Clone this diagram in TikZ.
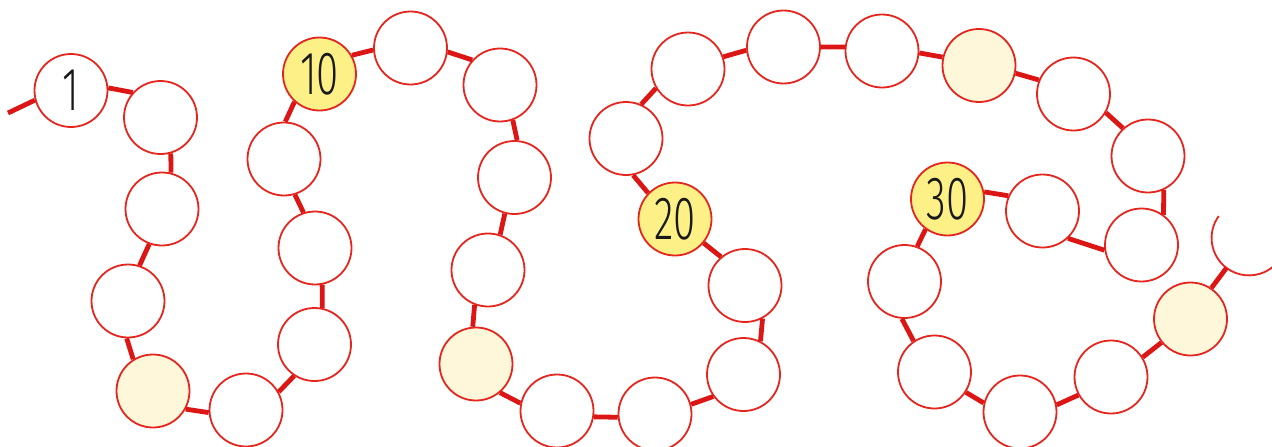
\documentclass[tikz,border=0pt]{standalone}
\usepackage{fontspec}
\newfontfamily\beadfont{Fira Sans Light}
\definecolor{beadred}{RGB}{228,38,30}
\definecolor{linkred}{RGB}{220,22,20}
\definecolor{tenyellow}{RGB}{253,240,135}
\definecolor{paleyellow}{RGB}{255,247,218}
\definecolor{numgray}{RGB}{25,25,25}
\newcommand\beadnum[1]{\scalebox{0.66}[1]{#1}}
\tikzset{
  bead/.style={circle, draw=beadred, line width=1.8pt, fill=white, minimum size=73pt, inner sep=0pt,
    font=\beadfont\fontsize{61}{61}\selectfont, text=numgray},
  tenbead/.style={bead, fill=tenyellow},
  fivebead/.style={bead, fill=paleyellow},
  link/.style={draw=linkred, line width=4.8pt, line cap=butt}
}
\begin{document}
\begin{tikzpicture}[x=1pt,y=-1pt]
\useasboundingbox (0,0) rectangle (1272,447);
\node[bead] (c1) at (71,90.5) {\beadnum{1}};
\node[bead] (c2) at (160.5,117.5) {};
\node[bead] (c3) at (162,209) {};
\node[bead] (c4) at (128,301) {};
\node[fivebead] (c5) at (153,391) {};
\node[bead] (c6) at (246,410) {};
\node[bead] (c7) at (314.5,344.5) {};
\node[bead] (c8) at (315,248) {};
\node[bead] (c9) at (284,159) {};
\node[tenbead] (c10) at (319.5,74) {\beadnum{10}};
\node[bead] (c11) at (410.5,48) {};
\node[bead] (c12) at (500,85) {};
\node[bead] (c13) at (514.5,177.5) {};
\node[bead] (c14) at (488,270) {};
\node[fivebead] (c15) at (476,364) {};
\node[bead] (c16) at (557,411) {};
\node[bead] (c17) at (655,414) {};
\node[bead] (c18) at (743.5,374.5) {};
\node[bead] (c19) at (745,285.5) {};
\node[tenbead] (c20) at (675,219) {\beadnum{20}};
\node[bead] (c21) at (626,138.5) {};
\node[bead] (c22) at (688,69) {};
\node[bead] (c23) at (783.5,47) {};
\node[bead] (c24) at (882,51) {};
\node[fivebead] (c25) at (979,65.5) {};
\node[bead] (c26) at (1073.5,94) {};
\node[bead] (c27) at (1148,156) {};
\node[bead] (c28) at (1141.5,245) {};
\node[bead] (c29) at (1042.5,211) {};
\node[tenbead] (c30) at (947.5,199) {\beadnum{30}};
\node[bead] (c31) at (904.5,281.5) {};
\node[bead] (c32) at (934.5,372) {};
\node[bead] (c33) at (1020,412) {};
\node[bead] (c34) at (1111,377) {};
\node[fivebead] (c35) at (1190.5,319) {};
\node[bead, draw=none, fill=none] (c36) at (1249,238) {};
\draw[draw=beadred, line width=1.8pt] (c36.144) arc[start angle=144, end angle=335, radius=37.4pt];
\coordinate (s0) at (8,113);
\draw[link] (s0) -- (c1.195);
\draw[link] (c1.4) -- (c2.138);
\draw[link] (c2.286) -- (c3.76);
\draw[link] (c3.250) -- (c4.72);
\draw[link] (c4.268) -- (c5.122);
\draw[link] (c5.331) -- (c6.184);
\draw[link] (c6.29) -- (c7.237);
\draw[link] (c7.78) -- (c8.281);
\draw[link] (c8.108) -- (c9.287);
\draw[link] (c9.88) -- (c10.228);
\draw[link] (c10.30) -- (c11.183);
\draw[link] (c11.354) -- (c12.138);
\draw[link] (c12.290) -- (c13.86);
\draw[link] (c13.255) -- (c14.71);
\draw[link] (c14.249) -- (c15.95);
\draw[link] (c15.310) -- (c16.168);
\draw[link] (c16.351) -- (c17.185);
\draw[link] (c17.15) -- (c18.216);
\draw[link] (c18.63) -- (c19.298);
\draw[link] (c19.130) -- (c20.320);
\draw[link] (c20.136) -- (c21.281);
\draw[link] (c21.66) -- (c22.211);
\draw[link] (c22.19) -- (c23.185);
\draw[link] (c23.0) -- (c24.174);
\draw[link] (c24.357) -- (c25.167);
\draw[link] (c25.348) -- (c26.158);
\draw[link] (c26.330) -- (c27.132);
\draw[link] (c27.295) -- (c28.54);
\draw[link] (c28.188) -- (c29.313);
\draw[link] (c29.156) -- (c30.11);
\draw[link] (c30.234) -- (c31.70);
\draw[link] (c31.266) -- (c32.124);
\draw[link] (c32.327) -- (c33.166);
\draw[link] (c33.11) -- (c34.209);
\draw[link] (c34.32) -- (c35.219);
\draw[link] (c35.56) -- (c36.233);
\end{tikzpicture}
\end{document}
